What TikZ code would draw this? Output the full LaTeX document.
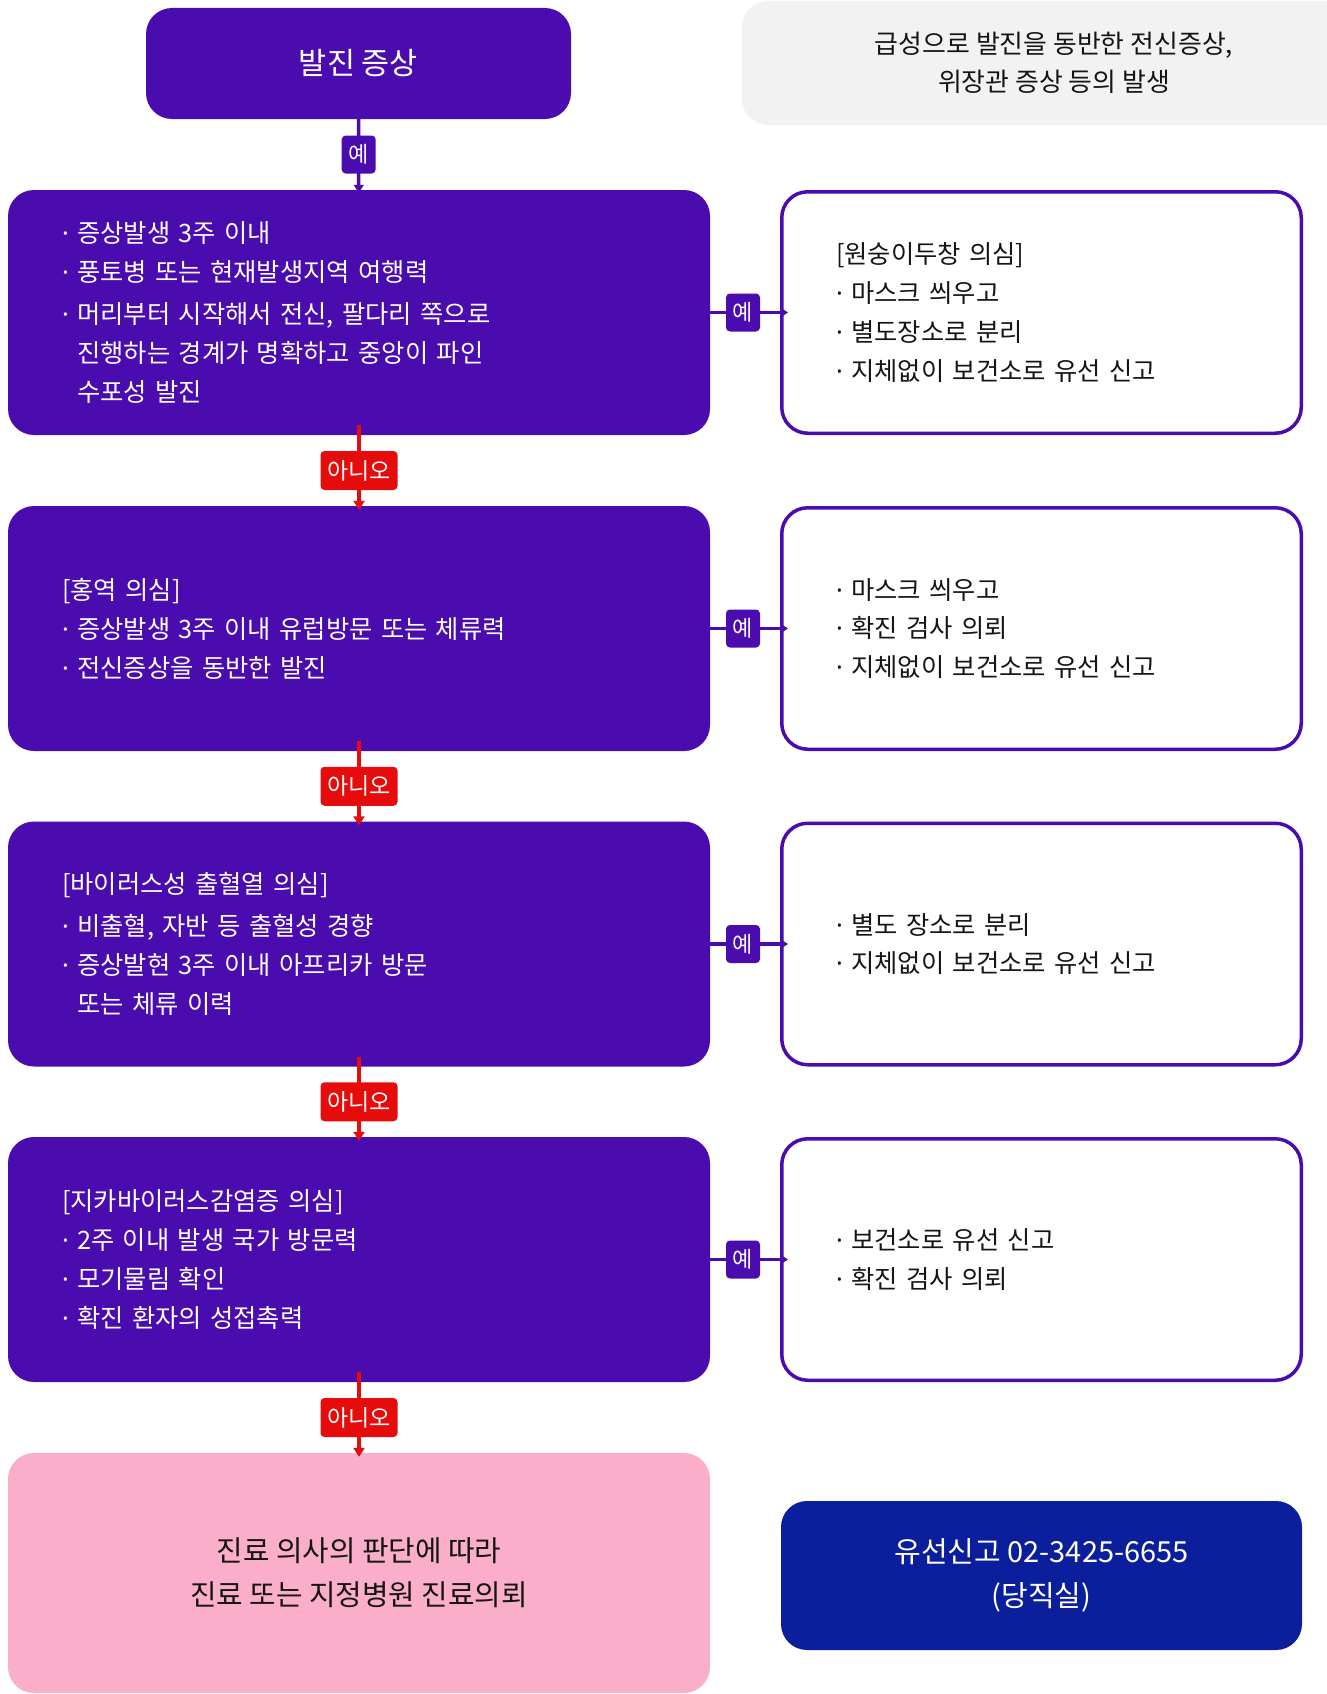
\documentclass[tikz,border=0pt]{standalone}
\usepackage{fontspec}
\setmainfont{Noto Sans CJK KR}
\newfontfamily\latinf{Noto Sans}
\usetikzlibrary{arrows.meta}
\definecolor{pur}{HTML}{4A0CAE}
\definecolor{redc}{HTML}{E60C0C}
\definecolor{pinkc}{HTML}{FBAECA}
\definecolor{navy}{HTML}{0B1E9B}
\definecolor{grayc}{HTML}{F2F2F2}
\definecolor{ink}{HTML}{151515}
\newcommand{\bul}{{\latinf·\ }}
\newcommand{\ind}{\phantom{\bul}}
\begin{document}
\begin{tikzpicture}[x=1pt,y=-1pt,
  leftbox/.style={fill=pur, rounded corners=26pt, minimum width=702pt, minimum height=245pt,
    text width=594pt, inner xsep=54pt, inner ysep=0pt, align=left, text=white,
    font=\fontsize{25.3}{38.9}\selectfont},
  rightbox/.style={draw=pur, line width=3.5pt, fill=white, rounded corners=26pt,
    minimum width=519.5pt, minimum height=241.5pt, text width=411pt, inner xsep=54.25pt,
    inner ysep=0pt, align=left, text=ink, font=\fontsize{25.3}{38.9}\selectfont},
  yeslbl/.style={fill=pur, rounded corners=4pt, minimum width=34pt, minimum height=38pt,
    inner sep=0pt, text=white, font=\fontsize{22}{26}\selectfont},
  nolbl/.style={fill=redc, rounded corners=4pt, minimum width=77pt, minimum height=39pt,
    inner sep=0pt, text=white, font=\fontsize{23}{27}\selectfont},
  pconn/.style={draw=pur, line width=3.5pt, -{Triangle[length=8pt,width=10pt]}},
  rconn/.style={draw=redc, line width=4pt, -{Triangle[length=9pt,width=11pt]},
    shorten <=-10pt, shorten >=-4pt}
]
\useasboundingbox (0,0) rectangle (1327,1694);

% top and side note
\node[fill=pur, rounded corners=26pt, minimum width=425pt, minimum height=111pt,
  text=white, font=\fontsize{30.5}{36}\selectfont] (top) at (358.5,63.5) {발진 증상};
\node[fill=grayc, rounded corners=26pt, minimum width=624pt, minimum height=124pt,
  align=center, text=ink, font=\fontsize{25.9}{38.5}\selectfont] (note) at (1054,63)
  {급성으로 발진을 동반한 전신증상,\\위장관 증상 등의 발생};

% left column
\node[leftbox] (b1) at (359,312.5) {\bul 증상발생 3주 이내\\
\bul 풍토병 또는 현재발생지역 여행력\\[3pt]
\bul 머리부터 시작해서 전신, 팔다리 쪽으로\\
\ind 진행하는 경계가 명확하고 중앙이 파인\\
\ind 수포성 발진};
\node[leftbox] (b2) at (359,628.5) {[홍역 의심]\\
\bul 증상발생 3주 이내 유럽방문 또는 체류력\\
\bul 전신증상을 동반한 발진};
\node[leftbox] (b3) at (359,944) {[바이러스성 출혈열 의심]\\[3pt]
\bul 비출혈, 자반 등 출혈성 경향\\
\bul 증상발현 3주 이내 아프리카 방문\\
\ind 또는 체류 이력};
\node[leftbox] (b4) at (359,1259.5) {[지카바이러스감염증 의심]\\
\bul 2주 이내 발생 국가 방문력\\
\bul 모기물림 확인\\
\bul 확진 환자의 성접촉력};
\node[fill=pinkc, rounded corners=26pt, minimum width=702pt, minimum height=240pt,
  align=center, text=ink, font=\fontsize{28.8}{44}\selectfont] (b5) at (359,1573)
  {진료 의사의 판단에 따라\\진료 또는 지정병원 진료의뢰};

% right column
\node[rightbox] (r1) at (1041.5,312.5) {[원숭이두창 의심]\\
\bul 마스크 씌우고\\
\bul 별도장소로 분리\\
\bul 지체없이 보건소로 유선 신고};
\node[rightbox] (r2) at (1041.5,628.5) {\bul 마스크 씌우고\\
\bul 확진 검사 의뢰\\
\bul 지체없이 보건소로 유선 신고};
\node[rightbox] (r3) at (1041.5,944) {\bul 별도 장소로 분리\\
\bul 지체없이 보건소로 유선 신고};
\node[rightbox] (r4) at (1041.5,1259.5) {\bul 보건소로 유선 신고\\
\bul 확진 검사 의뢰};
\node[fill=navy, rounded corners=26pt, minimum width=521pt, minimum height=149pt,
  align=center, text=white, font=\fontsize{29}{44}\selectfont] (call) at (1041.5,1575.5)
  {유선신고 02-3425-6655\\(당직실)};

% connectors
\draw[pconn, shorten >=-3pt] (top) -- node[yeslbl] (y0) {예} (b1);
\draw[rconn] (b1) -- node[nolbl] (n1) {아니오} (b2);
\draw[rconn] (b2) -- node[nolbl] (n2) {아니오} (b3);
\draw[rconn] (b3) -- node[nolbl] (n3) {아니오} (b4);
\draw[rconn] (b4) -- node[nolbl] (n4) {아니오} (b5);
\draw[pconn, shorten >=-8pt] (b1) -- node[yeslbl, pos=0.47] (y1) {예} (r1);
\draw[pconn, shorten >=-8pt] (b2) -- node[yeslbl, pos=0.47] (y2) {예} (r2);
\draw[pconn, shorten >=-8pt] (b3) -- node[yeslbl, pos=0.47] (y3) {예} (r3);
\draw[pconn, shorten >=-8pt] (b4) -- node[yeslbl, pos=0.47] (y4) {예} (r4);
\end{tikzpicture}
\end{document}
